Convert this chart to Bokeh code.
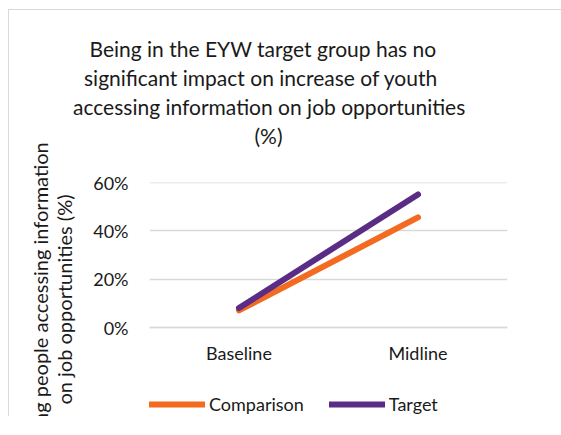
from bokeh.plotting import figure
from bokeh.models import Legend, LegendItem, NumeralTickFormatter, FixedTicker, Title
from bokeh.embed import file_html
from bokeh.resources import INLINE

# Share of young people accessing information on job opportunities
rounds = ["Baseline", "Midline"]
comparison = [0.071, 0.456]
target = [0.081, 0.551]
y_ticks = [0.0, 0.2, 0.4, 0.6]
title_lines = [
    "Being in the EYW target group has no",
    "significant impact on increase of youth",
    "accessing information on job opportunities",
    "(%)",
]
# left offsets that centre each title line over the chart area
title_offsets = [-60, -65.5, -76.5, 105]
y_label = "Young people accessing information\non job opportunities (%)"

ORANGE = "#F26B21"
PURPLE = "#5B2C86"
GRID = "#D9D9D9"
FONT = "Lato"
TEXT = "#1A1A1A"

# the frame reaches below the 0% line so the legend row can sit inside it
p = figure(
    x_range=rounds, y_range=(-0.3683, 0.6005),
    width=553, height=443,
    frame_width=358, frame_height=234,
    output_backend="svg", toolbar_location=None,
    min_border_left=140, min_border_right=55,
    min_border_top=172, min_border_bottom=0,
)
p.margin = (9, 0, 0, 8)
p.styles = {"border-top": f"1px solid {GRID}", "border-left": f"1px solid {GRID}"}
p.outline_line_color = None
p.x_range.range_padding = 0

# chart title: a blank spacer next to the plot, then the lines bottom-up
p.add_layout(Title(text=" ", text_font=FONT, text_font_size="21px", standoff=6), "above")
for line, off in reversed(list(zip(title_lines, title_offsets))):
    p.add_layout(Title(
        text=line, align="left", offset=off, vertical_align="middle",
        text_font=FONT, text_font_size="21px", text_font_style="normal",
        text_color=TEXT, standoff=2,
    ), "above")

# y axis: bounds keep the title centred on the 0-60% band
p.yaxis.ticker = FixedTicker(ticks=y_ticks)
p.yaxis.formatter = NumeralTickFormatter(format="0%")
p.yaxis.bounds = (-0.05, 0.6005)
p.yaxis.axis_line_color = None
p.yaxis.major_tick_line_color = None
p.yaxis.minor_tick_line_color = None
p.yaxis.major_label_standoff = 15
p.yaxis.axis_label = y_label
p.yaxis.axis_label_standoff = 14
p.yaxis.axis_label_text_font = FONT
p.yaxis.axis_label_text_font_size = "20px"
p.yaxis.axis_label_text_font_style = "normal"
p.yaxis.axis_label_text_color = TEXT
p.yaxis.axis_label_text_line_height = 1.0

# x axis drawn along the 0% line
p.xaxis.fixed_location = 0
p.xaxis.axis_line_color = GRID
p.xaxis.axis_line_width = 1.3
p.xaxis.major_tick_line_color = None
p.xaxis.minor_tick_line_color = None
p.xaxis.major_label_standoff = 8

for ax in (p.xaxis, p.yaxis):
    ax.major_label_text_font = FONT
    ax.major_label_text_font_size = "18px"
    ax.major_label_text_color = TEXT

p.xgrid.grid_line_color = None
p.ygrid.grid_line_color = GRID
p.ygrid.grid_line_width = 1.3

# series
r_cmp = p.line(rounds, comparison, line_color=ORANGE, line_width=6, line_cap="round")
r_tgt = p.line(rounds, target, line_color=PURPLE, line_width=6, line_cap="round")

# legend row at the foot of the frame
legend = Legend(
    items=[LegendItem(label="Comparison", renderers=[r_cmp]),
           LegendItem(label="Target", renderers=[r_tgt])],
    orientation="horizontal", location=(0, 1),
    border_line_color=None, background_fill_alpha=0,
    padding=0, margin=0, spacing=25,
    glyph_width=56, glyph_height=20, label_standoff=4,
    label_text_font=FONT, label_text_font_size="18px", label_text_color=TEXT,
)
p.add_layout(legend, "center")

open("out.html", "w").write(file_html(p, INLINE))
